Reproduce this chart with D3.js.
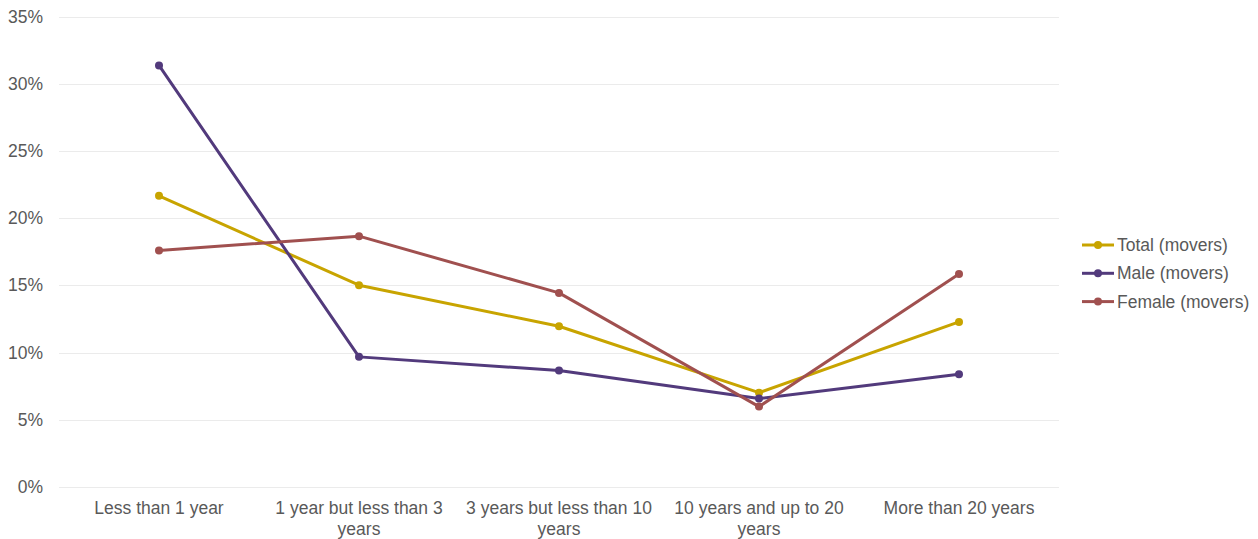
<!DOCTYPE html>
<html>
<head>
<meta charset="utf-8">
<script src="https://cdn.jsdelivr.net/npm/d3@7"></script>
<style>
  html, body { margin: 0; padding: 0; background: #ffffff; }
  svg { display: block; }
  text { font-family: "Liberation Sans", Arial, sans-serif; fill: #595959; }
</style>
</head>
<body>
<svg id="chart" width="1258" height="539"></svg>
<script>
const categories = [
  "Less than 1 year",
  "1 year but less than 3 years",
  "3 years but less than 10 years",
  "10 years and up to 20 years",
  "More than 20 years"
];
const totalMovers  = [21.66, 15.01, 11.96, 7.02, 12.28];
const maleMovers   = [31.36, 9.68, 8.66, 6.58, 8.39];
const femaleMovers = [17.59, 18.66, 14.44, 5.98, 15.85];
const seriesNames  = ["Total (movers)", "Male (movers)", "Female (movers)"];
const seriesColors = ["#C8A400", "#523A7C", "#A0504F"];
const yTicks = [0, 5, 10, 15, 20, 25, 30, 35];

(function () {
const series = [
  { name: seriesNames[0], color: seriesColors[0], values: totalMovers },
  { name: seriesNames[1], color: seriesColors[1], values: maleMovers },
  { name: seriesNames[2], color: seriesColors[2], values: femaleMovers }
];

const svg = d3.select("#chart");
const mLeft = 59, mRight = 1059, mTop = 16.5, mBottom = 487;

const x = d3.scaleBand().domain(categories).range([mLeft, mRight]).padding(0);
const y = d3.scaleLinear().domain([0, 35]).range([mBottom, mTop]);

// Gridlines
svg.append("g")
  .selectAll("line")
  .data(yTicks)
  .join("line")
  .attr("x1", mLeft).attr("x2", mRight)
  .attr("y1", d => Math.round(y(d)) + 0.5).attr("y2", d => Math.round(y(d)) + 0.5)
  .attr("stroke", "#ebebeb").attr("stroke-width", 1);

// Y axis
const yAxis = d3.axisLeft(y).tickValues(yTicks).tickFormat(d => d + "%").tickSize(0).tickPadding(16);
const yg = svg.append("g").attr("transform", `translate(${mLeft},0)`).call(yAxis);
yg.select(".domain").remove();
yg.selectAll("text").style("font-size", "17.5px").style("fill", "#595959")
  .style("font-family", '"Liberation Sans", Arial, sans-serif');

// X axis
const xAxis = d3.axisBottom(x).tickSize(0).tickPadding(0);
const xg = svg.append("g").attr("transform", `translate(0,${mBottom})`).call(xAxis);
xg.select(".domain").remove();
xg.selectAll("text").style("font-size", "17.5px").style("fill", "#595959")
  .style("font-family", '"Liberation Sans", Arial, sans-serif')
  .attr("y", 0).attr("dy", null)
  .each(function(d) { wrap(d3.select(this), d, 190); });

function wrap(textSel, str, width) {
  const words = str.split(/\s+/);
  textSel.text(null);
  let line = [];
  let lineNo = 0;
  let tspan = textSel.append("tspan").attr("x", 0).attr("y", 26.5);
  for (const w of words) {
    line.push(w);
    tspan.text(line.join(" "));
    if (tspan.node().getComputedTextLength() > width && line.length > 1) {
      line.pop();
      tspan.text(line.join(" "));
      line = [w];
      lineNo++;
      tspan = textSel.append("tspan").attr("x", 0).attr("y", 26.5 + lineNo * 21).text(w);
    }
  }
}

// Lines
const lineGen = d3.line()
  .x((d, i) => x(categories[i]) + x.bandwidth() / 2)
  .y(d => y(d));

const sg = svg.append("g");
series.forEach(s => {
  sg.append("path")
    .datum(s.values)
    .attr("d", lineGen)
    .attr("fill", "none")
    .attr("stroke", s.color)
    .attr("stroke-width", 3)
    .attr("stroke-linejoin", "round")
    .attr("stroke-linecap", "round");
  sg.selectAll(null)
    .data(s.values)
    .join("circle")
    .attr("cx", (d, i) => x(categories[i]) + x.bandwidth() / 2)
    .attr("cy", d => y(d))
    .attr("r", 4)
    .attr("fill", s.color);
});

// Legend
const legend = svg.append("g");
const legY0 = 245, legStep = 28.3;
series.forEach((s, i) => {
  const gy = legY0 + i * legStep;
  legend.append("line")
    .attr("x1", 1082).attr("x2", 1114)
    .attr("y1", gy).attr("y2", gy)
    .attr("stroke", s.color).attr("stroke-width", 3);
  legend.append("circle")
    .attr("cx", 1098).attr("cy", gy).attr("r", 4).attr("fill", s.color);
  legend.append("text")
    .attr("x", 1117).attr("y", gy).attr("dy", "0.35em")
    .style("font-size", "17.5px")
    .text(s.name);
});
})();
</script>
</body>
</html>
